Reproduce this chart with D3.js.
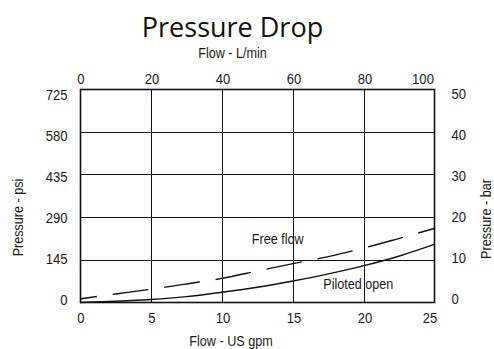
<!DOCTYPE html>
<html>
<head>
<meta charset="utf-8">
<script src="https://cdn.jsdelivr.net/npm/d3@7"></script>
<style>
  html, body { margin: 0; padding: 0; background: #fff; }
  svg { display: block; }
  .cond { font-family: "Liberation Sans", Arial, sans-serif; fill: #1a1a1a; }
  .title { font-family: "Open Sans", "Noto Sans", sans-serif; fill: #111; }
</style>
</head>
<body>
<svg id="chart" width="494" height="349"></svg>
<script>
// Flow in US gpm and pressure drop in psi
const flowGpm      = [0, 2.5, 5, 7.5, 10, 12.5, 15, 17.5, 20, 22.5, 25];
const freeFlowPsi  = [12, 29, 45, 63, 82, 107, 132, 156, 185, 218, 252];
const pilotedPsi   = [0, 4, 10, 20, 35, 52, 73, 97, 125, 158, 198];

// Axis tick values
const gpmTicks  = [0, 5, 10, 15, 20, 25];
const lpmTicks  = [0, 20, 40, 60, 80, 100];
const psiTicks  = [0, 145, 290, 435, 580, 725];
const barTicks  = [0, 10, 20, 30, 40, 50];

const titleText = "Pressure Drop";
const topTitle = "Flow - L/min";
const bottomTitle = "Flow - US gpm";
const leftTitle = "Pressure - psi";
const rightTitle = "Pressure - bar";
const seriesLabels = ["Free flow", "Piloted open"];

const svg = d3.select("#chart");
const L = 80, R = 435, T = 89, B = 302.5;
const SX = 0.87; // horizontal squeeze for the condensed label face

const x = d3.scaleLinear().domain([0, 25]).range([L, R]);
const xTop = d3.scaleLinear().domain([0, 100]).range([L, R]);
const y = d3.scaleLinear().domain([0, 725]).range([B, T]);
// tick text positions (labels sit on a slightly tighter spacing than the grid)
const yLabL = d3.scaleLinear().domain([0, 725]).range([300, 95]);
const yLabR = d3.scaleLinear().domain([0, 50]).range([299, 94]);

// condensed text helper
function label(g, px, py, str, anchor, size, rot) {
  return g.append("text").attr("class", "cond").attr("font-size", size || 14.5)
    .attr("text-anchor", anchor || "middle")
    .attr("transform", `translate(${px},${py})${rot ? " rotate(" + rot + ")" : ""} scale(${SX},1)`)
    .text(str);
}

// grid lines
const grid = svg.append("g").attr("stroke", "#111").attr("stroke-width", 1).attr("shape-rendering", "crispEdges");
grid.selectAll("line.v").data(gpmTicks.slice(1, -1)).join("line")
  .attr("x1", d => Math.round(x(d)) + 0.5).attr("x2", d => Math.round(x(d)) + 0.5)
  .attr("y1", T).attr("y2", B);
grid.selectAll("line.h").data(psiTicks.slice(1, -1)).join("line")
  .attr("x1", L).attr("x2", R)
  .attr("y1", d => Math.round(y(d)) + 0.5).attr("y2", d => Math.round(y(d)) + 0.5);

// curves
const line = d3.line().x((d, i) => x(flowGpm[i])).y(d => y(d)).curve(d3.curveMonotoneX);
svg.append("path").datum(pilotedPsi).attr("d", line)
  .attr("fill", "none").attr("stroke", "#111").attr("stroke-width", 1.4);
svg.append("path").datum(freeFlowPsi).attr("d", line)
  .attr("fill", "none").attr("stroke", "#111").attr("stroke-width", 1.4)
  .attr("stroke-dasharray", "36,16").attr("stroke-dashoffset", 19);

// frame
svg.append("rect").attr("x", L + 0.5).attr("y", T + 0.5)
  .attr("width", R - L - 1).attr("height", B - T - 0.5)
  .attr("fill", "none").attr("stroke", "#111").attr("stroke-width", 1.6);

const labels = svg.append("g");

// bottom ticks
gpmTicks.forEach((d, i) => label(labels, x(d) + (i === gpmTicks.length - 1 ? -5 : 1), 323, d, "middle", 15));
// top ticks
lpmTicks.forEach((d, i) => label(labels, xTop(d) + (i === lpmTicks.length - 1 ? -12 : 1), 83.5, d, "middle", 15));
// left ticks
psiTicks.forEach(d => label(labels, 67.5, yLabL(d) + 5.4, d, "end", 15));
// right ticks
barTicks.forEach(d => label(labels, 451.5, yLabR(d) + 5.4, d, "start", 15));

// titles
svg.append("text").attr("class", "title").attr("font-size", 27)
  .attr("x", 232.5).attr("y", 36.7).attr("text-anchor", "middle").text(titleText);
label(labels, 232.5, 58.3, topTitle, "middle", 14.5);
label(labels, 231, 345.5, bottomTitle, "middle", 14.5);
label(labels, 22.5, 217.5, leftTitle, "middle", 14.5, -90);
label(labels, 490.5, 219, rightTitle, "middle", 14.5, -90);

// series labels
label(labels, 277.7, 244, seriesLabels[0], "middle", 14.5);
label(labels, 358.3, 288.5, seriesLabels[1], "middle", 14.5);
</script>
</body>
</html>
